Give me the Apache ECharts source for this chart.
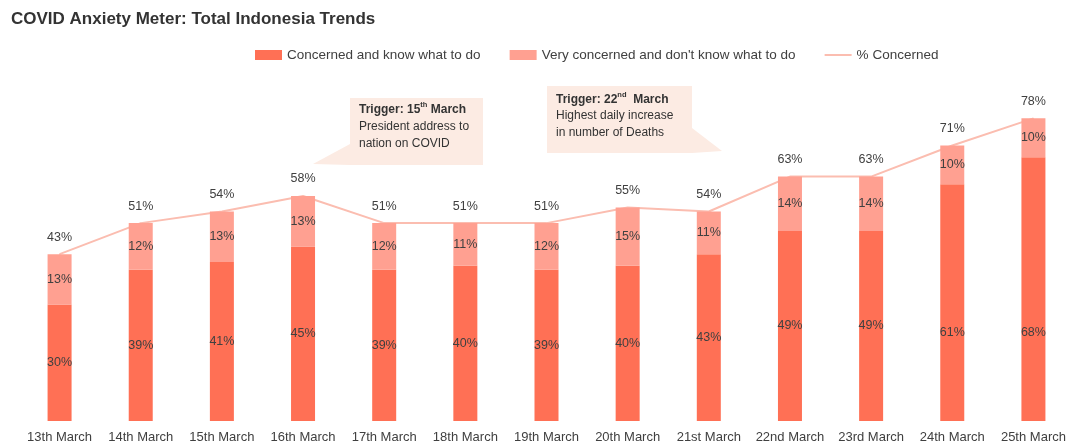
<!doctype html>
<html>
<head>
<meta charset="utf-8">
<script src="https://cdn.jsdelivr.net/npm/echarts@6/dist/echarts.min.js"></script>
<style>
    html, body {margin: 0; padding: 0; background: #fff;}
    #chart {width: 1074px; height: 446px;}
</style>
</head>
<body>
<div id="chart"></div>
<script>
    var days = ['13th March', '14th March', '15th March', '16th March', '17th March', '18th March', '19th March',
        '20th March', '21st March', '22nd March', '23rd March', '24th March', '25th March'];
    var knowWhat = [30, 39, 41, 45, 39, 40, 39, 40, 43, 49, 49, 61, 68];
    var dontKnow = [13, 12, 13, 13, 12, 11, 12, 15, 11, 14, 14, 10, 10];
    var concerned = [43, 51, 54, 58, 51, 51, 51, 55, 54, 63, 63, 71, 78];

    var txt = '#404040';
    var font = 'Liberation Sans';
    var myChart = echarts.init(document.getElementById('chart'));

    // in the original the two tallest bars keep their label lower down
    var lowData = knowWhat.map(function (v) {
        if (v > 55) return {value: v, label: {offset: [0, (v - 53) * 3.9 / 2 + 14]}};
        return v;
    });

    var option = {
        animation: false,
        title: {
            text: 'COVID Anxiety Meter: Total Indonesia Trends',
            left: 11,
            top: 11,
            padding: 0,
            textStyle: {fontFamily: font, fontSize: 17, fontWeight: 'bold', color: '#333'}
        },
        legend: {
            left: 255,
            top: 48,
            padding: 0,
            itemWidth: 27,
            itemHeight: 10,
            itemGap: 29,
            textStyle: {fontFamily: font, fontSize: 13.5, color: txt},
            data: [
                {name: 'Concerned and know what to do', icon: 'rect'},
                {name: "Very concerned and don't know what to do", icon: 'rect'},
                {name: '% Concerned', icon: 'path://M0,0H40V3H0Z'}
            ]
        },
        grid: {left: 19, right: -7, top: 33, bottom: 25},
        xAxis: {
            type: 'category',
            data: days,
            axisLine: {show: false},
            axisTick: {show: false},
            axisLabel: {fontFamily: font, fontSize: 13, color: txt, margin: 10, interval: 0}
        },
        yAxis: {type: 'value', min: 0, max: 100, show: false},
        series: [
            {
                name: 'Concerned and know what to do',
                type: 'bar',
                stack: 'c',
                barWidth: 24,
                itemStyle: {color: '#ff7055'},
                label: {show: true, position: 'inside', formatter: '{c}%', color: txt,
                    fontFamily: font, fontSize: 12.5},
                data: lowData
            },
            {
                name: "Very concerned and don't know what to do",
                type: 'bar',
                stack: 'c',
                barWidth: 24,
                itemStyle: {color: '#ffa091'},
                label: {show: true, position: 'inside', formatter: '{c}%', color: txt,
                    fontFamily: font, fontSize: 12.5},
                data: dontKnow
            },
            {
                name: '% Concerned',
                type: 'line',
                symbol: 'circle',
                symbolSize: 1,
                itemStyle: {color: '#fbbdb0'},
                lineStyle: {color: '#fbbdb0', width: 2},
                label: {show: true, position: 'top', distance: 10, formatter: '{c}%', color: txt,
                    fontFamily: font, fontSize: 12.5},
                z: 1,
                data: concerned
            }
        ],
        graphic: [
            {type: 'polygon', shape: {points: [[350, 144], [350, 165], [313, 164]]}, style: {fill: '#fcebe3'}},
            {type: 'rect', shape: {x: 350, y: 98, width: 133, height: 67}, style: {fill: '#fcebe3'}},
            {
                type: 'text', left: 359, top: 101,
                style: {
                    text: '{b|Trigger: 15}{s|th}{b| March}\nPresident address to\nnation on COVID',
                    fontFamily: font, fontSize: 12, fill: '#333', lineHeight: 17,
                    rich: {
                        b: {fontWeight: 'bold', fontSize: 12, lineHeight: 17},
                        s: {fontWeight: 'bold', fontSize: 7.5, verticalAlign: 'top', lineHeight: 17}
                    }
                }
            },
            {type: 'polygon', shape: {points: [[692, 128], [692, 153], [722, 151]]}, style: {fill: '#fcebe3'}},
            {type: 'rect', shape: {x: 547, y: 86, width: 145, height: 67}, style: {fill: '#fcebe3'}},
            {
                type: 'text', left: 556, top: 91,
                style: {
                    text: '{b|Trigger: 22}{s|nd}{b|  March}\nHighest daily increase\nin number of Deaths',
                    fontFamily: font, fontSize: 12, fill: '#333', lineHeight: 16.5,
                    rich: {
                        b: {fontWeight: 'bold', fontSize: 12, lineHeight: 16.5},
                        s: {fontWeight: 'bold', fontSize: 7.5, verticalAlign: 'top', lineHeight: 16.5}
                    }
                }
            }
        ]
    };
    myChart.setOption(option);
</script>
</body>
</html>
